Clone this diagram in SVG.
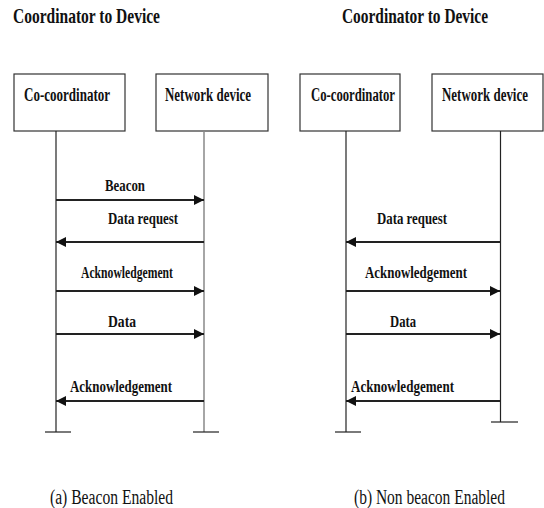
<svg xmlns="http://www.w3.org/2000/svg" width="544" height="508" viewBox="0 0 544 508">
  <defs>
    <marker id="arrowhead" markerWidth="10" markerHeight="10" viewBox="0 0 10 10" refX="10" refY="5" orient="auto" markerUnits="userSpaceOnUse">
      <path d="M0,0 L10,5 L0,10 Z" fill="#111"/>
    </marker>
    <style>
      .title { font-family: "Liberation Serif", "Times New Roman", serif; font-weight: bold; font-size: 21px; fill: #111; }
      .label { font-family: "Liberation Serif", "Times New Roman", serif; font-weight: bold; font-size: 18px; fill: #111; }
      .msg { font-family: "Liberation Serif", "Times New Roman", serif; font-weight: bold; font-size: 17px; fill: #111; }
      .caption { font-family: "Liberation Serif", "Times New Roman", serif; font-size: 20px; fill: #111; }
      .box { fill: #fff; stroke: #333; stroke-width: 1.2; }
      .life { stroke: #222; stroke-width: 1.2; fill: none; }
      .life-gray { stroke: #888; stroke-width: 1.5; fill: none; }
      .msgline { stroke: #222; stroke-width: 2; fill: none; marker-end: url(#arrowhead); }
    </style>
  </defs>
  <rect width="544" height="508" fill="#fff"/>

  <!-- Panel (a): beacon enabled -->
  <text class="title" x="13" y="23" textLength="147" lengthAdjust="spacingAndGlyphs">Coordinator to Device</text>
  <g id="a-coordinator">
    <rect class="box" x="14" y="74" width="111" height="57"/>
    <text class="label" x="24" y="101" textLength="86" lengthAdjust="spacingAndGlyphs">Co-coordinator</text>
    <line class="life" x1="56" y1="131" x2="56" y2="432"/>
    <line class="life" x1="45" y1="432" x2="71" y2="432"/>
  </g>
  <g id="a-device">
    <rect class="box" x="156" y="74" width="112" height="57"/>
    <text class="label" x="165" y="101" textLength="86" lengthAdjust="spacingAndGlyphs">Network device</text>
    <line class="life-gray" x1="204" y1="131" x2="204" y2="432"/>
    <line class="life" x1="193" y1="432" x2="219" y2="432"/>
  </g>
  <g id="a-messages">
    <line class="msgline" x1="56" y1="200" x2="204" y2="200"/>
    <text class="msg" x="105" y="191" textLength="40" lengthAdjust="spacingAndGlyphs">Beacon</text>
    <line class="msgline" x1="204" y1="242" x2="56" y2="242"/>
    <text class="msg" x="108" y="224" textLength="70" lengthAdjust="spacingAndGlyphs">Data request</text>
    <line class="msgline" x1="56" y1="291" x2="204" y2="291"/>
    <text class="msg" x="81" y="278" textLength="92" lengthAdjust="spacingAndGlyphs">Acknowledgement</text>
    <line class="msgline" x1="56" y1="334" x2="204" y2="334"/>
    <text class="msg" x="108" y="327" textLength="28" lengthAdjust="spacingAndGlyphs">Data</text>
    <line class="msgline" x1="204" y1="401" x2="56" y2="401"/>
    <text class="msg" x="70" y="392" textLength="102" lengthAdjust="spacingAndGlyphs">Acknowledgement</text>
  </g>
  <text class="caption" x="50" y="504" textLength="123" lengthAdjust="spacingAndGlyphs">(a) Beacon Enabled</text>

  <!-- Panel (b): non beacon enabled -->
  <text class="title" x="342" y="23" textLength="146" lengthAdjust="spacingAndGlyphs">Coordinator to Device</text>
  <g id="b-coordinator">
    <rect class="box" x="300" y="74" width="100" height="57"/>
    <text class="label" x="311" y="101" textLength="84" lengthAdjust="spacingAndGlyphs">Co-coordinator</text>
    <line class="life" x1="346" y1="131" x2="346" y2="432"/>
    <line class="life" x1="335" y1="432" x2="361" y2="432"/>
  </g>
  <g id="b-device">
    <rect class="box" x="432" y="74" width="111" height="57"/>
    <!-- narrow label: horizontal scale keeps the natural advance inside the canvas -->
    <text class="label" transform="translate(442,101) scale(0.72,1)" x="0" y="0" textLength="119.4" lengthAdjust="spacingAndGlyphs">Network device</text>
    <line class="life" x1="500.5" y1="131" x2="500.5" y2="422"/>
    <line class="life" x1="491" y1="422" x2="518" y2="422"/>
  </g>
  <g id="b-messages">
    <line class="msgline" x1="500" y1="242" x2="346" y2="242"/>
    <text class="msg" x="377" y="224" textLength="70" lengthAdjust="spacingAndGlyphs">Data request</text>
    <line class="msgline" x1="346" y1="291" x2="500" y2="291"/>
    <text class="msg" x="365" y="278" textLength="102" lengthAdjust="spacingAndGlyphs">Acknowledgement</text>
    <line class="msgline" x1="346" y1="334" x2="500" y2="334"/>
    <text class="msg" x="390" y="327" textLength="26" lengthAdjust="spacingAndGlyphs">Data</text>
    <line class="msgline" x1="500" y1="401" x2="346" y2="401"/>
    <text class="msg" x="351" y="392" textLength="103" lengthAdjust="spacingAndGlyphs">Acknowledgement</text>
  </g>
  <text class="caption" transform="translate(354,504) scale(0.775,1)" x="0" y="0" textLength="194.8" lengthAdjust="spacingAndGlyphs">(b) Non beacon Enabled</text>
</svg>
